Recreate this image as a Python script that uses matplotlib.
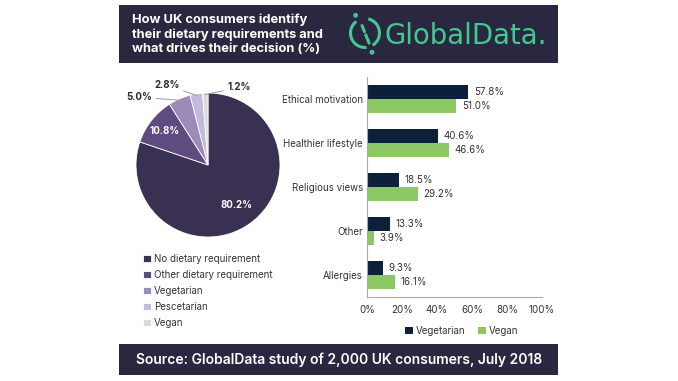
import matplotlib
matplotlib.use("Agg")
import matplotlib.pyplot as plt
from matplotlib.patches import Rectangle, Arc, Circle
import numpy as np

plt.rcParams['font.family'] = ['Inter', 'DejaVu Sans']

# ---- data ----
pie_labels = ["No dietary requirement", "Other dietary requirement", "Vegetarian", "Pescetarian", "Vegan"]
pie_values = [80.2, 10.8, 5.0, 2.8, 1.2]
pie_colors = ["#3a3152", "#5e4b80", "#9b8aba", "#c4b9da", "#dadada"]

categories = ["Ethical motivation", "Healthier lifestyle", "Religious views", "Other", "Allergies"]
vegetarian = [57.8, 40.6, 18.5, 13.3, 9.3]
vegan = [51.0, 46.6, 29.2, 3.9, 16.1]
xticks = [0, 20, 40, 60, 80, 100]
xtick_labels = ["0%", "20%", "40%", "60%", "80%", "100%"]

title = "How UK consumers identify\ntheir dietary requirements and\nwhat drives their decision (%)"
source = "Source: GlobalData study of 2,000 UK consumers, July 2018"

W, H = 678, 381
fig = plt.figure(figsize=(W / 100, H / 100), dpi=100)
fig.patch.set_facecolor("white")

def box(left, top, w, h):
    return [left / W, 1 - (top + h) / H, w / W, h / H]

# background overlay in pixel coords (y up)
bg = fig.add_axes([0, 0, 1, 1])
bg.set_xlim(0, W)
bg.set_ylim(0, H)
bg.axis("off")
def Y(py):
    return H - py

DARK = "#2a2740"
bg.add_patch(Rectangle((119, Y(63)), 439, 58, color=DARK, lw=0))
bg.add_patch(Rectangle((119, Y(375)), 439, 31, color=DARK, lw=0))

fig.text(132 / W, 1 - 34.5 / H, title, color="white", fontsize=9.3, fontweight="bold",
         va="center", ha="left", linespacing=1.25)
fig.text(339 / W, 1 - 359.5 / H, source, color="white", fontsize=10, fontweight="semibold",
         va="center", ha="center")

# logo
GREEN = "#43c98f"
cx, cy, r = 365, Y(33), 14.5
bg.add_patch(Arc((cx, cy), 2 * r, 2 * r, theta1=127, theta2=276, color=GREEN, lw=2.2))
bg.add_patch(Arc((cx, cy), 2 * r, 2 * r, theta1=-58, theta2=77, color=GREEN, lw=2.2))
a1, a2 = np.deg2rad(112), np.deg2rad(-68)
bg.plot([cx + 8 * np.cos(a1), cx + 1.5 * np.cos(a1)], [cy + 8 * np.sin(a1), cy + 1.5 * np.sin(a1)],
        color=GREEN, lw=2.2, solid_capstyle="round")
bg.plot([cx + 2 * np.cos(a2), cx + 11 * np.cos(a2)], [cy + 2 * np.sin(a2), cy + 11 * np.sin(a2)],
        color=GREEN, lw=2.2, solid_capstyle="round")
bg.add_patch(Circle((cx + 20 * np.cos(np.deg2rad(118)), cy + 20 * np.sin(np.deg2rad(118))), 1.7, color=GREEN))
bg.add_patch(Circle((cx + 20.5 * np.cos(np.deg2rad(-70)), cy + 20.5 * np.sin(np.deg2rad(-70))), 1.7, color=GREEN))
fig.text(385 / W, 1 - 36 / H, "GlobalData.", color=GREEN, fontsize=19.8, va="center", ha="left",
         family="DejaVu Sans")

# ---- pie ----
pax = fig.add_axes(box(136, 93, 144, 144))
wedges, _ = pax.pie(pie_values, colors=pie_colors, startangle=90, counterclock=False,
                    wedgeprops=dict(linewidth=0.6, edgecolor="white"))
pax.set_xlim(-1, 1)
pax.set_ylim(-1, 1)
pax.set_aspect("equal")

def mid_angle(w):
    return np.deg2rad((w.theta1 + w.theta2) / 2)

for i, w in enumerate(wedges):
    a = mid_angle(w)
    lab = f"{pie_values[i]:.1f}%"
    if i == 0:
        pax.text(0.69 * np.cos(a), 0.69 * np.sin(a), lab, color="white", fontsize=7,
                 fontweight="bold", ha="center", va="center")
    elif i == 1:
        pax.text(0.76 * np.cos(a), 0.76 * np.sin(a), lab, color="white", fontsize=7,
                 fontweight="bold", ha="center", va="center")

# leader labels for small slices (text offsets in pixels from slice edge)
offsets = {2: (-28, 3, "right"), 3: (-17, 10, "right"), 4: (22, 7, "left")}
for i, (dx, dy, ha) in offsets.items():
    a = mid_angle(wedges[i])
    ex, ey = np.cos(a) * 0.98, np.sin(a) * 0.98
    pax.annotate(f"{pie_values[i]:.1f}%", xy=(ex, ey), xytext=(dx, dy), textcoords="offset pixels",
                 fontsize=7, fontweight="bold", color="#2a2a2a", ha=ha, va="center",
                 arrowprops=dict(arrowstyle="-", color="#999999", lw=0.7, shrinkA=1, shrinkB=0),
                 annotation_clip=False)

fig.legend(wedges, pie_labels, loc="upper left", bbox_to_anchor=(143 / W, 1 - 254 / H),
           frameon=False, fontsize=7, handlelength=0.8, handleheight=0.8, handletextpad=0.35,
           labelspacing=0.62, borderpad=0, borderaxespad=0, labelcolor="#333333")

# ---- bars ----
bax = fig.add_axes(box(367, 77, 175, 220))
y = np.arange(len(categories))
h = 0.31
NAVY = "#0c1f3b"
LGREEN = "#8bc763"
b1 = bax.barh(y - h / 2 - 0.005, vegetarian, height=h, color=NAVY, label="Vegetarian")
b2 = bax.barh(y + h / 2 + 0.005, vegan, height=h, color=LGREEN, label="Vegan")
bax.set_ylim(len(categories) - 0.5, -0.5)
bax.set_xlim(0, 100)
bax.set_yticks(y)
bax.set_yticklabels(categories, fontsize=7, color="#333333")
bax.set_xticks(xticks)
bax.set_xticklabels(xtick_labels, fontsize=7, color="#333333")
bax.tick_params(length=0, pad=6)
bax.tick_params(axis="y", pad=3)
for s in ["top", "right"]:
    bax.spines[s].set_visible(False)
for s in ["left", "bottom"]:
    bax.spines[s].set_color("#aaaaaa")
    bax.spines[s].set_linewidth(0.8)
bax.bar_label(b1, fmt="%.1f%%", padding=4, fontsize=7, color="#333333")
bax.bar_label(b2, fmt="%.1f%%", padding=4, fontsize=7, color="#333333")
bax.legend(loc="upper center", bbox_to_anchor=(0.54, -0.13), ncol=2, frameon=False, fontsize=7,
           handlelength=0.8, handleheight=0.8, handletextpad=0.3, columnspacing=1.3,
           borderpad=0, borderaxespad=0, labelcolor="#333333")

fig.savefig("out.png", dpi=100, facecolor="white")
